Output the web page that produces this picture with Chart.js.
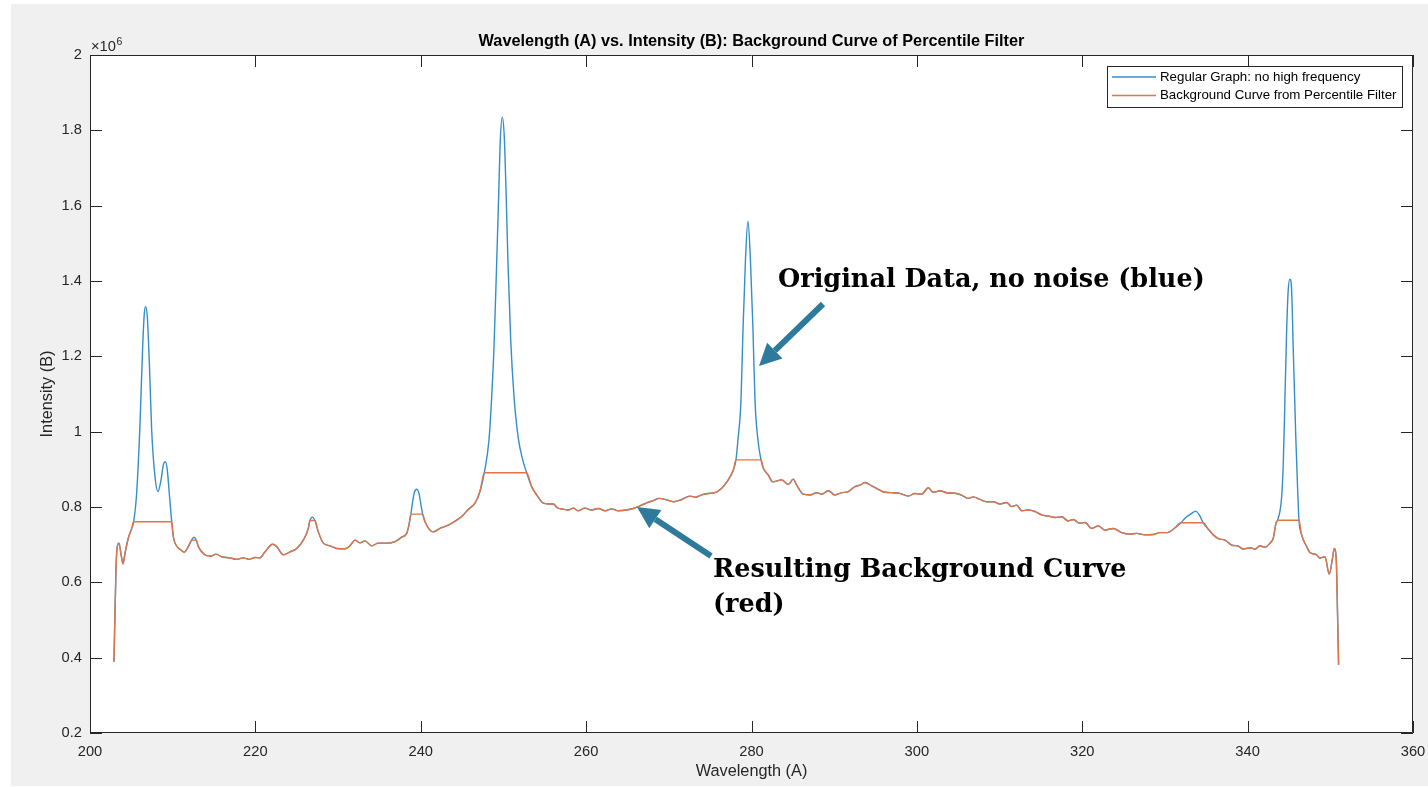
<!DOCTYPE html>
<html>
<head>
<meta charset="utf-8">
<script src="https://cdn.jsdelivr.net/npm/chart.js@4/dist/chart.umd.min.js"></script>
<style>
  html, body { margin: 0; padding: 0; background: #fff; }
  canvas { display: block; }
</style>
</head>
<body>
<canvas id="myChart" width="1428" height="787"></canvas>
<script>
// background curve from the percentile filter: wavelength (A), intensity (x10^6)
const wavelength = [
  202.90, 203.14, 203.30, 203.51, 203.75, 203.99, 204.23, 204.63, 205.04, 205.28,
  209.88, 210.08, 210.40, 210.88, 211.41, 211.89, 212.30, 212.85, 213.10, 213.51,
  214.11, 214.71, 215.24, 215.92, 216.93, 217.73, 218.54, 219.26, 219.95, 220.56,
  221.16, 222.09, 222.57, 223.38, 224.19, 225.00, 225.80, 226.40, 226.60, 227.20,
  227.61, 228.22, 229.02, 229.83, 230.84, 231.44, 232.05, 232.65, 233.26, 234.06,
  234.87, 235.88, 236.89, 237.69, 238.30, 238.60, 238.80, 240.23, 240.51, 241.52,
  242.33, 243.33, 244.35, 245.15, 245.76, 246.56, 247.16, 247.69, 252.81, 253.41,
  254.02, 254.82, 255.43, 256.03, 256.52, 257.24, 257.84, 258.45, 259.05, 259.86,
  260.67, 261.47, 262.28, 263.09, 263.89, 264.90, 265.70, 266.51, 267.32, 268.12,
  268.85, 269.74, 270.55, 271.56, 272.56, 273.29, 273.97, 274.77, 275.58, 276.39,
  277.19, 277.80, 278.12, 281.15, 281.43, 282.03, 282.56, 283.64, 284.45, 285.05,
  285.46, 286.26, 287.07, 287.88, 288.48, 289.29, 290.09, 290.90, 291.70, 292.51,
  293.12, 293.72, 294.53, 295.33, 296.14, 297.15, 297.95, 298.96, 299.77, 300.57,
  301.38, 301.98, 302.79, 303.60, 304.80, 305.61, 306.21, 306.82, 307.63, 308.43,
  309.24, 310.05, 310.85, 311.46, 312.06, 312.67, 313.47, 314.28, 315.09, 315.89,
  316.70, 317.51, 318.31, 318.92, 319.64, 320.33, 321.13, 321.94, 322.75, 323.75,
  324.76, 325.77, 326.58, 327.58, 328.59, 329.40, 330.28, 331.01, 331.94, 334.63,
  335.24, 335.85, 336.45, 337.26, 338.07, 338.87, 339.48, 340.28, 340.89, 341.49,
  342.10, 342.70, 343.10, 343.43, 343.63, 346.21, 346.53, 347.14, 347.54, 348.35,
  348.74, 349.35, 349.87, 350.23, 350.48, 350.72, 350.84, 351.00
];
const background = [
  0.389, 0.633, 0.695, 0.704, 0.675, 0.649, 0.677, 0.717, 0.743, 0.761,
  0.761, 0.721, 0.699, 0.688, 0.680, 0.695, 0.712, 0.712, 0.695, 0.681,
  0.671, 0.670, 0.675, 0.668, 0.665, 0.661, 0.665, 0.661, 0.666, 0.665,
  0.681, 0.701, 0.695, 0.673, 0.681, 0.690, 0.712, 0.743, 0.764, 0.764,
  0.734, 0.704, 0.697, 0.690, 0.689, 0.697, 0.712, 0.705, 0.710, 0.697,
  0.704, 0.704, 0.708, 0.720, 0.730, 0.755, 0.781, 0.781, 0.761, 0.734,
  0.743, 0.752, 0.765, 0.779, 0.794, 0.810, 0.841, 0.891, 0.891, 0.854,
  0.832, 0.810, 0.808, 0.808, 0.798, 0.794, 0.792, 0.797, 0.790, 0.797,
  0.792, 0.796, 0.790, 0.795, 0.790, 0.792, 0.796, 0.803, 0.811, 0.817,
  0.823, 0.819, 0.814, 0.820, 0.829, 0.826, 0.832, 0.836, 0.838, 0.850,
  0.872, 0.898, 0.925, 0.925, 0.903, 0.885, 0.867, 0.872, 0.860, 0.874,
  0.858, 0.834, 0.832, 0.838, 0.834, 0.843, 0.832, 0.838, 0.841, 0.854,
  0.858, 0.865, 0.856, 0.847, 0.839, 0.838, 0.836, 0.829, 0.836, 0.834,
  0.851, 0.839, 0.843, 0.838, 0.836, 0.829, 0.823, 0.827, 0.820, 0.814,
  0.814, 0.808, 0.812, 0.801, 0.805, 0.790, 0.792, 0.788, 0.779, 0.776,
  0.772, 0.774, 0.763, 0.767, 0.757, 0.759, 0.743, 0.750, 0.739, 0.743,
  0.732, 0.728, 0.730, 0.726, 0.727, 0.732, 0.732, 0.741, 0.758, 0.758,
  0.741, 0.726, 0.716, 0.712, 0.699, 0.696, 0.688, 0.692, 0.688, 0.697,
  0.693, 0.704, 0.717, 0.757, 0.765, 0.765, 0.726, 0.695, 0.679, 0.673,
  0.664, 0.668, 0.622, 0.659, 0.690, 0.659, 0.553, 0.381
];

// original data where it rises above the background; null separates the peaks
const peakWavelength = [
  205.28, 205.64, 206.05, 206.37, 206.57, 206.73, 206.93, 207.18, 207.46, 207.86,
  208.22, 208.59, 208.87, 209.11, 209.35, 209.59, 209.88, null,
  212.30, 212.58, 212.85, null,
  226.60, 226.89, 227.20, null,
  238.80, 239.02, 239.22, 239.51, 239.79, 240.03, 240.23, null,
  247.69, 248.25, 248.58, 248.86, 249.18, 249.42, 249.62, 249.86, 250.10, 250.31,
  250.55, 250.88, 251.28, 251.80, 252.33, 252.81, null,
  278.12, 278.36, 278.73, 278.97, 279.27, 279.57, 279.87, 280.18, 280.42, 280.78, 281.15, null,
  331.94, 332.42, 333.23, 333.71, 334.15, 334.63, null,
  343.63, 344.10, 344.30, 344.51, 344.71, 344.91, 345.12, 345.32, 345.52, 345.81, 346.05, 346.21
];
const peakIntensity = [
  0.761, 0.836, 1.022, 1.226, 1.314, 1.332, 1.305, 1.181, 1.004, 0.880,
  0.841, 0.872, 0.912, 0.920, 0.898, 0.836, 0.761, null,
  0.712, 0.720, 0.712, null,
  0.764, 0.773, 0.764, null,
  0.781, 0.814, 0.838, 0.847, 0.836, 0.805, 0.781, null,
  0.891, 0.978, 1.093, 1.226, 1.447, 1.624, 1.774, 1.835, 1.783, 1.642,
  1.447, 1.243, 1.093, 0.982, 0.925, 0.891, null,
  0.925, 0.978, 1.084, 1.270, 1.456, 1.559, 1.456, 1.270, 1.084, 0.978, 0.925, null,
  0.758, 0.770, 0.783, 0.789, 0.779, 0.758, null,
  0.765, 0.823, 0.907, 1.084, 1.261, 1.376, 1.405, 1.376, 1.217, 0.996, 0.845, 0.765
];

const xTicks = [200, 220, 240, 260, 280, 300, 320, 340, 360];
const yTicks = [0.2, 0.4, 0.6, 0.8, 1, 1.2, 1.4, 1.6, 1.8, 2];

const seriesLabels = ['Regular Graph: no high frequency', 'Background Curve from Percentile Filter'];
const seriesColors = ['#338eca', '#e17547'];

// background points
const bgPoints = wavelength.map((w, i) => ({ x: w, y: background[i] }));

// split peak arrays into segments
const peakSegments = [];
let seg = [];
peakWavelength.forEach((w, i) => {
  if (w === null) { peakSegments.push(seg); seg = []; }
  else seg.push({ x: w, y: peakIntensity[i] });
});
if (seg.length) peakSegments.push(seg);

// original curve = background outside the peaks + the peaks themselves
const insidePeak = x => peakSegments.some(s => x >= s[0].x && x <= s[s.length - 1].x);
const origPoints = bgPoints.filter(p => !insidePeak(p.x))
  .concat(...peakSegments)
  .sort((a, b) => a.x - b.x);

const FONT = "'Liberation Sans', Arial, Helvetica, sans-serif";
const AXIS_COLOR = '#262626';

const matlabFrame = {
  id: 'matlabFrame',
  beforeDraw(chart) {
    const ctx = chart.ctx;
    const a = chart.chartArea;
    ctx.save();
    ctx.fillStyle = '#ffffff';
    ctx.fillRect(0, 0, chart.width, chart.height);
    ctx.fillStyle = '#f0f0f0';
    ctx.fillRect(11, 4, chart.width - 11, chart.height - 5);
    ctx.fillStyle = '#ffffff';
    ctx.fillRect(a.left, a.top, a.right - a.left, a.bottom - a.top);
    ctx.restore();
  },
  afterDraw(chart) {
    const ctx = chart.ctx;
    const a = chart.chartArea;
    const xs = chart.scales.x;
    const ys = chart.scales.y;
    const tl = 12;
    ctx.save();

    // axes box and inward ticks
    ctx.strokeStyle = AXIS_COLOR;
    ctx.lineWidth = 1;
    ctx.beginPath();
    ctx.rect(a.left + 0.5, a.top + 0.5, a.right - a.left - 1, a.bottom - a.top - 1);
    xTicks.forEach(v => {
      const px = Math.round(xs.getPixelForValue(v)) + 0.5;
      ctx.moveTo(px, a.bottom); ctx.lineTo(px, a.bottom - tl);
      ctx.moveTo(px, a.top); ctx.lineTo(px, a.top + tl);
    });
    yTicks.forEach(v => {
      const py = Math.round(ys.getPixelForValue(v)) + 0.5;
      ctx.moveTo(a.left, py); ctx.lineTo(a.left + tl, py);
      ctx.moveTo(a.right, py); ctx.lineTo(a.right - tl, py);
    });
    ctx.stroke();

    // title
    ctx.fillStyle = '#000';
    ctx.textAlign = 'center';
    ctx.textBaseline = 'middle';
    ctx.font = 'bold 16.3px ' + FONT;
    ctx.fillText('Wavelength (A) vs. Intensity (B): Background Curve of Percentile Filter',
      (a.left + a.right) / 2, 42);

    // axis labels
    ctx.fillStyle = AXIS_COLOR;
    ctx.font = '16.3px ' + FONT;
    ctx.fillText('Wavelength (A)', (a.left + a.right) / 2, 772);
    ctx.save();
    ctx.translate(48, (a.top + a.bottom) / 2);
    ctx.rotate(-Math.PI / 2);
    ctx.fillText('Intensity (B)', 0, 0);
    ctx.restore();

    // exponent marker
    ctx.textAlign = 'left';
    ctx.textBaseline = 'alphabetic';
    ctx.font = '14.7px ' + FONT;
    ctx.fillText('\u00d710', 91, 51);
    const w = ctx.measureText('\u00d710').width;
    ctx.font = '10.5px ' + FONT;
    ctx.fillText('6', 91 + w + 0.5, 45);

    // legend
    const lx = 1107.5, ly = 66.5, lw = 295, lh = 41;
    ctx.fillStyle = '#ffffff';
    ctx.fillRect(lx, ly, lw, lh);
    ctx.strokeStyle = AXIS_COLOR;
    ctx.strokeRect(lx, ly, lw, lh);
    ctx.font = '13.3px ' + FONT;
    ctx.textBaseline = 'middle';
    const rows = [77, 95.5];
    chart.data.datasets.forEach((ds, i) => {
      ctx.strokeStyle = ds.borderColor;
      ctx.lineWidth = 1.3;
      ctx.beginPath();
      ctx.moveTo(1112, rows[i]);
      ctx.lineTo(1156, rows[i]);
      ctx.stroke();
      ctx.fillStyle = '#000';
      ctx.fillText(ds.label, 1160, rows[i]);
    });

    // notes with arrows
    ctx.fillStyle = '#000';
    ctx.textBaseline = 'alphabetic';
    ctx.font = 'bold 25.5px "DejaVu Serif", Georgia, serif';
    ctx.fillText('Original Data, no noise (blue)', 778, 287);
    ctx.fillText('Resulting Background Curve', 713, 577);
    ctx.fillText('(red)', 713, 612);

    drawArrow(ctx, 823, 304, 759, 366);
    drawArrow(ctx, 711, 556, 637, 507);

    ctx.restore();
  }
};

function drawArrow(ctx, x0, y0, x1, y1) {
  const ang = Math.atan2(y1 - y0, x1 - x0);
  const head = 22, half = 11;
  const bx = x1 - head * Math.cos(ang);
  const by = y1 - head * Math.sin(ang);
  ctx.save();
  ctx.strokeStyle = '#2d7a9c';
  ctx.fillStyle = '#2d7a9c';
  ctx.lineWidth = 6;
  ctx.lineCap = 'butt';
  ctx.beginPath();
  ctx.moveTo(x0, y0);
  ctx.lineTo(bx, by);
  ctx.stroke();
  ctx.beginPath();
  ctx.moveTo(x1, y1);
  ctx.lineTo(bx + half * Math.sin(ang), by - half * Math.cos(ang));
  ctx.lineTo(bx - half * Math.sin(ang), by + half * Math.cos(ang));
  ctx.closePath();
  ctx.fill();
  ctx.restore();
}

const ctx = document.getElementById('myChart').getContext('2d');
const myChart = new Chart(ctx, {
  type: 'line',
  data: {
    datasets: [{
      label: seriesLabels[0],
      data: origPoints,
      borderColor: seriesColors[0],
      borderWidth: 1.4,
      pointRadius: 0,
      cubicInterpolationMode: 'monotone',
      order: 1
    }, {
      label: seriesLabels[1],
      data: bgPoints,
      borderColor: seriesColors[1],
      borderWidth: 1.4,
      pointRadius: 0,
      cubicInterpolationMode: 'monotone',
      order: 0
    }]
  },
  options: {
    responsive: false,
    animation: false,
    devicePixelRatio: 1,
    layout: { padding: { left: 30, right: 15, top: 55, bottom: 0 } },
    plugins: {
      legend: { display: false },
      title: { display: false },
      tooltip: { enabled: false }
    },
    scales: {
      x: {
        type: 'linear',
        min: 200,
        max: 360,
        afterFit: s => { s.height = 54; s.paddingLeft = 0; s.paddingRight = 0; },
        afterBuildTicks: s => { s.ticks = xTicks.map(v => ({ value: v })); },
        grid: { display: false, drawTicks: false },
        border: { display: false },
        ticks: {
          padding: 10,
          color: AXIS_COLOR,
          font: { family: FONT, size: 14.7 },
          maxRotation: 0,
          callback: v => String(v)
        }
      },
      y: {
        type: 'linear',
        min: 0.2,
        max: 2,
        afterFit: s => { s.width = 60; s.paddingTop = 0; s.paddingBottom = 0; },
        afterBuildTicks: s => { s.ticks = yTicks.map(v => ({ value: v })); },
        grid: { display: false, drawTicks: false },
        border: { display: false },
        ticks: {
          padding: 8,
          color: AXIS_COLOR,
          font: { family: FONT, size: 14.7 },
          callback: v => String(Number(v.toFixed(1)))
        }
      }
    }
  },
  plugins: [matlabFrame]
});
</script>
</body>
</html>
